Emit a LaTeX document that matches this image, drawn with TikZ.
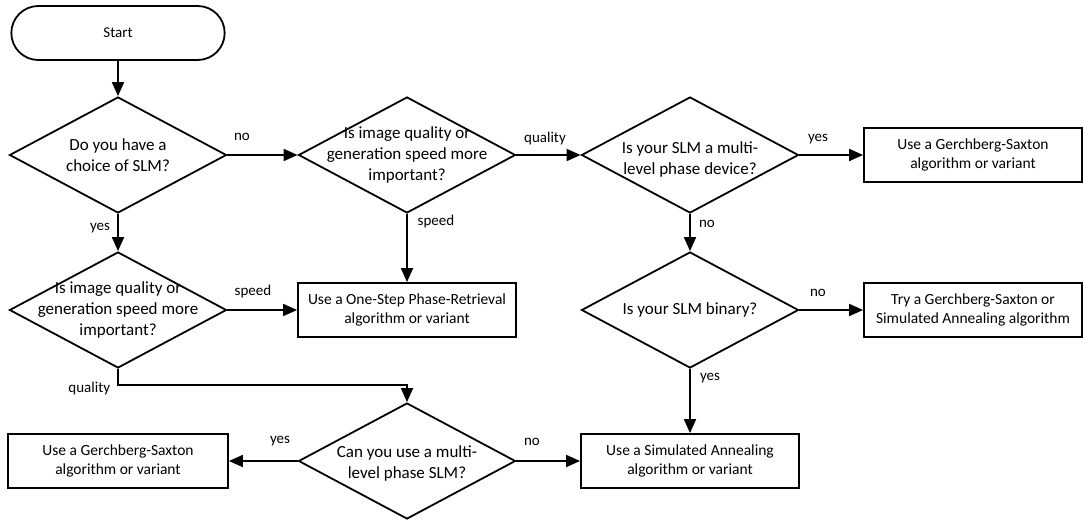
\documentclass[tikz,border=0pt]{standalone}
\usepackage{fontspec}
\setmainfont{Carlito}
\usetikzlibrary{shapes.geometric,shapes.misc,arrows.meta}
\begin{document}
\begin{tikzpicture}[x=1pt,y=-1pt,
 line width=1.8pt,
 dia/.style={draw, diamond, minimum width=217pt, minimum height=116pt, inner sep=0pt},
 dtext/.style={align=center, font=\fontsize{17}{21}\selectfont, inner sep=0pt},
 box/.style={draw, rectangle, minimum width=218pt, minimum height=54pt, align=center, font=\fontsize{15.5}{19}\selectfont, inner sep=2pt},
 term/.style={draw, rounded rectangle, minimum width=220pt, minimum height=54pt, font=\fontsize{15}{19}\selectfont},
 lbl/.style={font=\fontsize{15}{18}\selectfont, inner sep=1pt},
 arr/.style={-{Triangle[length=14pt,width=12pt]}}
]
\useasboundingbox (0,0) rectangle (1083,521);

\node[term] (start) at (118,33) {Start};

\node[dia] (d1) at (118,155) {};
\node[dtext] (d1t) at (d1) {Do you have a\\choice of SLM?};
\node[dia] (d2) at (118,310) {};
\node[dtext] (d2t) at (d2) {Is image quality or\\generation speed more\\important?};
\node[dia] (d3) at (407,155) {};
\node[dtext] (d3t) at (d3) {Is image quality or\\generation speed more\\important?};
\node[dia] (d4) at (690,155) {};
\node[dtext] (d4t) at (690,159) {Is your SLM a multi-\\level phase device?};
\node[dia] (d5) at (690,310) {};
\node[dtext] (d5t) at (d5) {Is your SLM binary?};
\node[dia] (d6) at (407,461) {};
\node[dtext] (d6t) at (407,463) {Can you use a multi-\\level phase SLM?};

\node[box] (gs1) at (973,155) {Use a Gerchberg-Saxton\\algorithm or variant};
\node[box] (try) at (973,310) {Try a Gerchberg-Saxton or\\Simulated Annealing algorithm};
\node[box] (one) at (407,310) {Use a One-Step Phase-Retrieval\\algorithm or variant};
\node[box] (sa) at (690,461) {Use a Simulated Annealing\\algorithm or variant};
\node[box, minimum width=220pt] (gs2) at (118,461) {Use a Gerchberg-Saxton\\algorithm or variant};

\coordinate (q) at (407,385);

\draw[arr] (start) -- (d1);
\draw[arr] (d1.east) -- (d3.west);
\draw[arr] (d1.south) -- (d2.north);
\draw[arr] (d2.east) -- (one.west);
\draw[arr] (d3.south) -- (one.north);
\draw[arr] (d3.east) -- (d4.west);
\draw[arr] (d4.east) -- (gs1.west);
\draw[arr] (d4.south) -- (d5.north);
\draw[arr] (d5.east) -- (try.west);
\draw[arr] (d5.south) -- (sa.north);
\draw[arr] (d2.south) |- (q) -- (d6.north);
\draw[arr] (d6.west) -- (gs2.east);
\draw[arr] (d6.east) -- (sa.west);

\node[lbl] (l1) at (242,137) {no};
\node[lbl] (l2) at (100,228) {yes};
\node[lbl] (l3) at (253,292) {speed};
\node[lbl] (l4) at (545,139) {quality};
\node[lbl] (l5) at (436,222) {speed};
\node[lbl] (l6) at (818,139) {yes};
\node[lbl] (l7) at (707,224) {no};
\node[lbl] (l8) at (818,293) {no};
\node[lbl] (l9) at (710,378) {yes};
\node[lbl, anchor=east] (l10) at (112,388) {quality};
\node[lbl] (l11) at (280,441) {yes};
\node[lbl] (l12) at (532,442) {no};
\end{tikzpicture}
\end{document}
